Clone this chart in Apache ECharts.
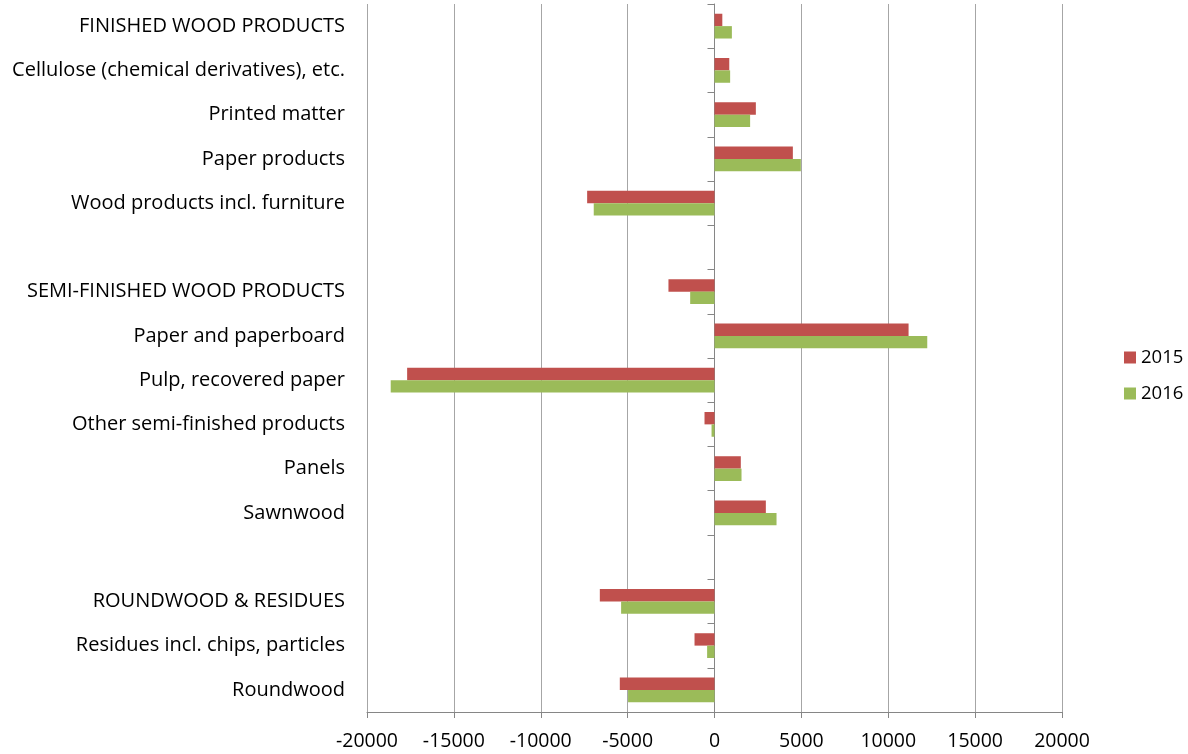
<!DOCTYPE html>
<html>
<head>
<meta charset="utf-8">
<script src="https://cdn.jsdelivr.net/npm/echarts@6/dist/echarts.min.js"></script>
<style>
  html, body { margin: 0; padding: 0; background: #fff; }
  #chart { width: 1188px; height: 754px; }
</style>
</head>
<body>
<div id="chart"></div>
<script>
// categories, top to bottom (blank rows separate the groups)
const categories = [
  "FINISHED WOOD PRODUCTS",
  "Cellulose (chemical derivatives), etc.",
  "Printed matter",
  "Paper products",
  "Wood products incl. furniture",
  " ",
  "SEMI-FINISHED WOOD PRODUCTS",
  "Paper and paperboard",
  "Pulp, recovered paper",
  "Other semi-finished products",
  "Panels",
  "Sawnwood",
  "  ",
  "ROUNDWOOD & RESIDUES",
  "Residues incl. chips, particles",
  "Roundwood",
];
const values2015 = [450, 850, 2380, 4510, -7330, null, -2650, 11170, -17690, -575, 1515, 2955, null, -6600, -1150, -5450];
const values2016 = [1000, 900, 2050, 4970, -6950, null, -1400, 12245, -18635, -170, 1555, 3570, null, -5375, -425, -4975];
const xTicks = { min: -20000, max: 20000, step: 5000 };

const font = "Open Sans, Liberation Sans, sans-serif";
const chart = echarts.init(document.getElementById("chart"));

chart.setOption({
  animation: false,
  textStyle: { fontFamily: font },
  legend: {
    orient: "vertical",
    left: 1119,
    top: 343,
    itemWidth: 12,
    itemHeight: 12,
    itemGap: 17,
    icon: "rect",
    data: ["2015", "2016"],
    textStyle: { fontSize: 18.5, color: "#000", fontFamily: font },
  },
  grid: { left: 367, right: 126, top: 4, bottom: 42 },
  xAxis: {
    type: "value",
    min: xTicks.min,
    max: xTicks.max,
    interval: xTicks.step,
    axisLine: { show: true, lineStyle: { color: "#868686" } },
    axisTick: { show: true, length: 6, lineStyle: { color: "#868686" } },
    axisLabel: {
      fontSize: 19.5, color: "#000", margin: 19, fontFamily: font,
      formatter: (v) => String(v),
    },
    splitLine: { show: true, lineStyle: { color: "#a6a6a6" } },
  },
  yAxis: [
    {
      // labels at the left edge
      type: "category",
      data: categories,
      inverse: true,
      axisLine: { show: false, onZero: false },
      axisTick: { show: false },
      axisLabel: { fontSize: 20, color: "#000", margin: 22, fontFamily: font },
    },
    {
      // axis line + ticks on zero
      type: "category",
      data: categories,
      inverse: true,
      position: "left",
      axisLine: { show: true, onZero: true, lineStyle: { color: "#868686" } },
      axisTick: { show: true, length: 7, lineStyle: { color: "#868686" } },
      axisLabel: { show: false },
    },
  ],
  series: [
    {
      name: "2015",
      type: "bar",
      data: values2015,
      barGap: "0%",
      barCategoryGap: "44%",
      itemStyle: { color: "#C0504D" },
    },
    {
      name: "2016",
      type: "bar",
      data: values2016,
      barGap: "0%",
      barCategoryGap: "44%",
      itemStyle: { color: "#9BBB59" },
    },
  ],
});
</script>
</body>
</html>
